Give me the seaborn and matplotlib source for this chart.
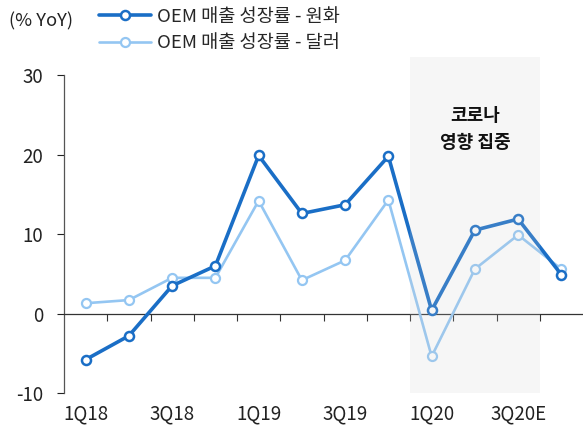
import matplotlib
matplotlib.use("Agg")
import matplotlib.pyplot as plt
import seaborn as sns
import pandas as pd
import numpy as np

quarters = ["1Q18", "2Q18", "3Q18", "4Q18", "1Q19", "2Q19", "3Q19", "4Q19",
            "1Q20", "2Q20", "3Q20E", "4Q20E"]
krw_growth = [-5.8, -2.8, 3.5, 6.0, 19.9, 12.6, 13.7, 19.8, 0.4, 10.5, 11.9, 4.9]
usd_growth = [1.3, 1.7, 4.5, 4.5, 14.2, 4.2, 6.7, 14.3, -5.4, 5.6, 9.9, 5.6]
label_krw = "OEM 매출 성장률 - 원화"
label_usd = "OEM 매출 성장률 - 달러"
tick_labels = ["1Q18", "3Q18", "1Q19", "3Q19", "1Q20", "3Q20E"]

sns.set_theme(style="white")
plt.rcParams['font.family'] = ['Noto Sans CJK KR', 'DejaVu Sans']
plt.rcParams['axes.unicode_minus'] = False

df = pd.DataFrame({
    "q": list(range(len(quarters))) * 2,
    "v": krw_growth + usd_growth,
    "s": [label_krw] * len(quarters) + [label_usd] * len(quarters),
})

fig = plt.figure(figsize=(5.83, 4.25), dpi=100)
ax = fig.add_axes([64 / 583, 32 / 425, 1 - 64 / 583, (393 - 57) / 425])

dark = "#1a6ec6"
light = "#94c6f2"

sns.lineplot(data=df[df.s == label_usd], x="q", y="v", ax=ax, color=light, lw=1.9,
             marker="o", markersize=6.5, markerfacecolor="white", markeredgecolor=light,
             markeredgewidth=1.6, label=label_usd, zorder=3)
sns.lineplot(data=df[df.s == label_krw], x="q", y="v", ax=ax, color=dark, lw=2.6,
             marker="o", markersize=6.5, markerfacecolor="white", markeredgecolor=dark,
             markeredgewidth=1.8, label=label_krw, zorder=4)

# shaded COVID region drawn over the lines (semi-transparent)
ax.axvspan(7.5, 10.5, ymin=0, ymax=(32.3 + 10) / 42.3, color="#cfcfcf", alpha=0.17,
           lw=0, zorder=5)
ax.text(9, 23.2, "코로나\n영향 집중", ha="center", va="center", fontsize=13,
        fontweight="bold", color="#111111", linespacing=1.55, zorder=6)

ax.set_xlim(-0.5, 11.5)
ax.set_ylim(-10, 32.3)
ax.set_yticks([-10, 0, 10, 20, 30])
ax.tick_params(axis="y", labelsize=13.5, length=5, width=0.8, colors="#222222",
               direction="out", left=True, pad=10)
ax.spines["left"].set_bounds(-10, 30)
ax.spines["left"].set_color("#555555")
ax.spines["left"].set_linewidth(0.9)
for sp in ["top", "right"]:
    ax.spines[sp].set_visible(False)
ax.spines["bottom"].set_position(("data", 0))
ax.spines["bottom"].set_color("#333333")
ax.spines["bottom"].set_linewidth(0.9)

ax.set_xticks(np.arange(0.5, 11, 1.0))
ax.set_xticklabels([])
ax.tick_params(axis="x", which="major", length=5, width=0.8, colors="#333333",
               direction="out", bottom=True)
ax.set_xticks(list(range(0, 12, 2)), minor=True)
ax.set_xticklabels(tick_labels, minor=True)
ax.tick_params(axis="x", which="minor", length=0, pad=65, labelsize=13.5,
               labelcolor="#222222")
ax.set_xlabel("")
ax.set_ylabel("")

handles, labels = ax.get_legend_handles_labels()
order = [labels.index(label_krw), labels.index(label_usd)]
leg = fig.legend([handles[i] for i in order], [labels[i] for i in order],
                 loc="upper left", bbox_to_anchor=(99 / 583, 1 - 8 / 425),
                 frameon=False, fontsize=13.4, handlelength=2.8, handletextpad=0.3,
                 labelspacing=0.45, borderaxespad=0, borderpad=0)
if ax.get_legend():
    ax.get_legend().remove()

fig.text(9 / 583, 1 - 21 / 425, "(% YoY)", ha="left", va="center", fontsize=13.2,
         color="#222222")

fig.savefig("out.png", dpi=100)
